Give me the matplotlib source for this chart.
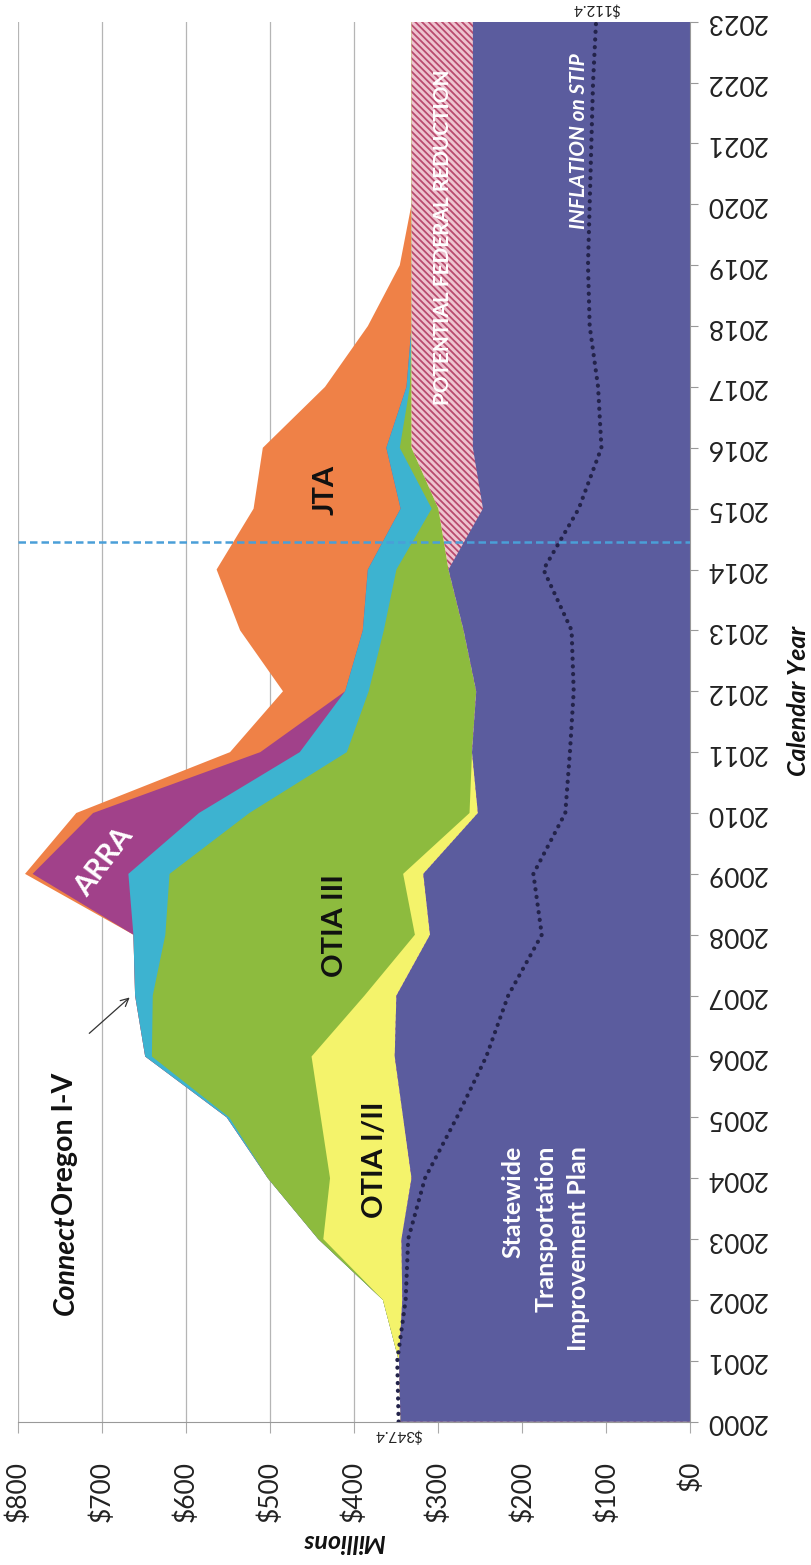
import matplotlib
matplotlib.use("Agg")
import matplotlib.pyplot as plt
import numpy as np

plt.rcParams['font.family'] = ['Lato', 'DejaVu Sans']
plt.rcParams['hatch.linewidth'] = 1.3

# ---------------- data (Millions of $) ----------------
years = list(range(2000, 2024))
stip = [345, 347, 343, 344, 332, 342, 352, 350, 310, 318, 253, 260,
        255, 270, 288, 247, 259, 259, 259, 259, 259, 259, 259, 259]
federal_reduction = [0, 0, 0, 0, 0, 0, 0, 0, 0, 0, 0, 0,
                     0, 0, 0, 53, 73, 73, 73, 73, 73, 73, 73, 73]
otia_12 = [0, 0, 23, 93, 97, 98, 99, 38, 18, 24, 10, 0,
           0, 0, 0, 0, 0, 0, 0, 0, 0, 0, 0, 0]
otia_3 = [0, 0, 0, 6, 74, 109, 190, 252, 297, 278, 262, 149,
          128, 95, 62, 8, 14, 2, 0, 0, 0, 0, 0, 0]
connect_oregon = [0, 0, 0, 0, 0, 3, 8, 21, 38, 49, 60, 56,
                  28, 25, 34, 37, 16, 4, 0, 0, 0, 0, 0, 0]
arra = [0, 0, 0, 0, 0, 0, 0, 0, 0, 114, 126, 47,
        0, 0, 0, 0, 0, 0, 0, 0, 0, 0, 0, 0]
jta = [0, 0, 0, 0, 0, 0, 0, 0, 0, 9, 20, 36,
       74, 146, 180, 175, 147, 97, 52, 14, 0, 0, 0, 0]
inflation_on_stip = [347.4, 349, 339, 336, 316, 278, 243, 217, 177, 187, 149, 143.5,
                     139, 141.5, 175, 133, 106, 110, 120, 122, 120, 118, 116, 112.4]
value_ticks = [0, 100, 200, 300, 400, 500, 600, 700, 800]
value_labels = ['$0', '$100', '$200', '$300', '$400', '$500', '$600', '$700', '$800']
year_labels = [str(y) for y in years]
now_line_year = 2014.45

# ---------------- figure ----------------
W_PX, H_PX = 812, 1565
fig = plt.figure(figsize=(W_PX / 100, H_PX / 100), dpi=100)
left_px, right_px, top_px, bottom_px = 18.3, 690.5, 21.7, 1421.7
ax = fig.add_axes([left_px / W_PX, (H_PX - bottom_px) / H_PX,
                   (right_px - left_px) / W_PX, (bottom_px - top_px) / H_PX])

layer_values = [stip, federal_reduction, otia_12, otia_3, connect_oregon, arra, jta]
layer_styles = [
    dict(facecolor='#5b5c9e'),
    dict(facecolor='#eec3cf', edgecolor='#b94a6e', hatch='\\\\\\\\\\'),
    dict(facecolor='#f4f36b'),
    dict(facecolor='#8dbb3e'),
    dict(facecolor='#3db3d0'),
    dict(facecolor='#a1418a'),
    dict(facecolor='#ef8147'),
]
cum_tops = np.cumsum(np.array(layer_values, dtype=float), axis=0)
# paint from the top layer downwards so every layer covers the ones above it
for i in range(len(layer_values) - 1, -1, -1):
    ax.fill_betweenx(years, 0, cum_tops[i], lw=0, zorder=2, **layer_styles[i])

# inflation dotted line
ax.plot(inflation_on_stip, years, color='#23234a', lw=3.0,
        linestyle=(0, (0.05, 1.8)), dash_capstyle='round', zorder=4)

# "now" dashed line
ax.axhline(now_line_year, color='#4a9fd8', lw=1.8, linestyle=(0, (3, 1.6)), zorder=5)

# axes setup
ax.set_xlim(800, 0)
ax.set_ylim(2000, 2023)
ax.set_xticks(value_ticks)
ax.set_xticklabels(value_labels, rotation=90, fontsize=19, color='#222222')
ax.set_yticks(years)
ax.set_yticklabels(year_labels, rotation=180, fontsize=19, color='#222222')
ax.yaxis.tick_right()
ax.tick_params(axis='y', direction='out', length=6, width=0.8, color='#999999', pad=5)
ax.tick_params(axis='x', direction='out', length=8, width=0.8, color='#aaaaaa', pad=20)
for lab in ax.get_yticklabels():
    lab.set_horizontalalignment('left')
    lab.set_verticalalignment('center')
ax.grid(axis='x', color='#b5b5b5', lw=0.9)
ax.grid(axis='y', visible=False)
ax.set_axisbelow(True)
for s in ['top', 'left']:
    ax.spines[s].set_visible(False)
ax.spines['right'].set_color('#999999')
ax.spines['bottom'].set_color('#999999')

# value annotations at line ends
ax.text(347.4, 1999.78, '$347.4', rotation=180, ha='center', va='center',
        fontsize=11, color='#222222', clip_on=False)
ax.text(112.4, 2023.21, '$112.4', rotation=180, ha='center', va='center',
        fontsize=11, color='#222222', clip_on=False)

# region labels
ax.text(172, 2002.85, 'Statewide\nTransportation\nImprovement Plan', rotation=90,
        ha='center', va='center', multialignment='right', fontsize=18,
        color='white', fontweight='bold', linespacing=1.5, zorder=6)
ax.text(376, 2004.3, 'OTIA I/II', rotation=90, ha='center', va='center',
        fontsize=21, fontweight='bold', color='#111111', zorder=6)
ax.text(423, 2008.15, 'OTIA III', rotation=90, ha='center', va='center',
        fontsize=21, fontweight='bold', color='#111111', zorder=6)
ax.text(434, 2015.3, 'JTA', rotation=90, ha='center', va='center',
        fontsize=21, fontweight='bold', color='#111111', zorder=6)
ax.text(698, 2009.2, 'ARRA', rotation=53, ha='center', va='center',
        fontsize=21, fontweight='bold', color='white', zorder=6)
ax.text(295, 2019.46, 'POTENTIAL FEDERAL REDUCTION', rotation=90, ha='center',
        va='center', fontsize=15, fontweight='bold', color='white', zorder=6)
ax.text(133, 2021.03, 'INFLATION on STIP', rotation=90, ha='center', va='center',
        fontsize=15, fontweight='bold', fontstyle='italic', color='white', zorder=6)

t1 = ax.text(744, 2001.75, 'Connect', rotation=90, ha='center', va='bottom',
             fontsize=20.5, fontweight='bold', fontstyle='italic', color='#111111')
ax.annotate('Oregon I-V', xy=(0, 1), xycoords=t1, rotation=90, ha='left', va='bottom',
            fontsize=20.5, fontweight='bold', color='#111111')
ax.annotate('', xy=(665, 2007.0), xytext=(718, 2006.35),
            arrowprops=dict(arrowstyle='->', color='#333333', lw=0.9, mutation_scale=14))

# axis titles
fig.text(344 / W_PX, 1 - 1542 / H_PX, 'Millions', rotation=180, ha='center', va='center',
         fontsize=18, fontweight='bold', fontstyle='italic', color='#111111')
fig.text(799 / W_PX, 1 - 701 / H_PX, 'Calendar Year', rotation=90, ha='center', va='center',
         fontsize=18, fontweight='bold', fontstyle='italic', color='#111111')

fig.savefig('out.png', dpi=100)
